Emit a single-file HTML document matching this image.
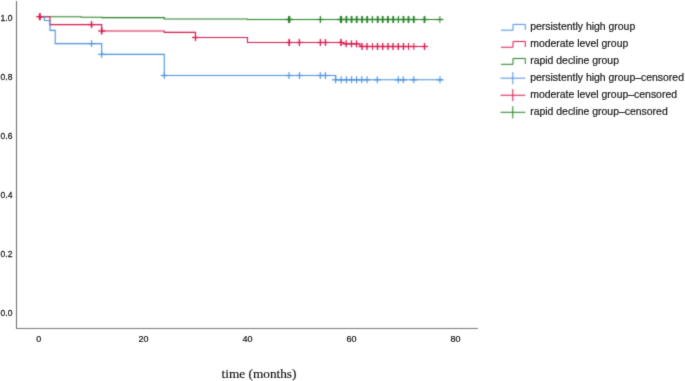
<!DOCTYPE html>
<html><head><meta charset="utf-8">
<style>
html,body{margin:0;padding:0;background:#fff;}
body{width:685px;height:381px;overflow:hidden;}
svg{display:block;}
</style></head>
<body>
<svg width="685" height="381" viewBox="0 0 685 381">
<defs><filter id="bl" x="0" y="0" width="685" height="381" filterUnits="userSpaceOnUse" color-interpolation-filters="sRGB"><feConvolveMatrix order="3" kernelMatrix="0.0256 0.1088 0.0256 0.1088 0.4624 0.1088 0.0256 0.1088 0.0256" edgeMode="duplicate" preserveAlpha="true"/></filter><filter id="bl2" x="0" y="0" width="685" height="381" filterUnits="userSpaceOnUse" color-interpolation-filters="sRGB"><feConvolveMatrix order="3" kernelMatrix="0.0121 0.0858 0.0121 0.0858 0.6084 0.0858 0.0121 0.0858 0.0121" edgeMode="none" preserveAlpha="false"/></filter></defs>
<g filter="url(#bl)">
<rect width="685" height="381" fill="#fff"/>
<path d="M16.5 1 V328.5" stroke="#666" stroke-width="1" fill="none"/>
<path d="M16 328.5 H478" stroke="#777" stroke-width="1" fill="none"/>
<g fill="none" stroke-width="1.1" stroke-opacity="1.0">
<path d="M39.6 16.8 H81.2 V17.2 H101.8 V17.6 H164.2 V19.0 H247.5 V19.5 H443" stroke="#238023"/>
<path d="M39.6 16.8 H50 V24.6 H101.7 V31.0 H164.3 V32.4 H195.5 V37.5 H247.5 V42.5 H343.3 V43.8 H360 V46.5 H427.5" stroke="#d6174a"/>
<path d="M39.6 16.8 H44.4 V20.5 H50 V30.4 H55.2 V43.6 H101.7 V54.4 H164.3 V75.5 H335.7 V79.8 H443" stroke="#4a90e2"/>
</g>
<g fill="none">
<path d="M285.70 19.5 H292.70" stroke="#238023" stroke-width="1.5"/><path d="M289.2 16.0 V23.0" stroke="#238023" stroke-width="2.24"/>
<path d="M316.90 19.5 H323.90" stroke="#238023" stroke-width="1.3"/><path d="M320.4 16.0 V23.0" stroke="#238023" stroke-width="1.2320000000000002"/>
<path d="M337.50 19.5 H344.50" stroke="#238023" stroke-width="1.5"/><path d="M341.0 16.0 V23.0" stroke="#238023" stroke-width="2.24"/>
<path d="M342.90 19.5 H349.90" stroke="#238023" stroke-width="1.3"/><path d="M346.4 16.0 V23.0" stroke="#238023" stroke-width="1.7920000000000003"/>
<path d="M348.10 19.5 H355.10" stroke="#238023" stroke-width="1.3"/><path d="M351.6 16.0 V23.0" stroke="#238023" stroke-width="1.7920000000000003"/>
<path d="M353.20 19.5 H360.20" stroke="#238023" stroke-width="1.3"/><path d="M356.7 16.0 V23.0" stroke="#238023" stroke-width="1.7920000000000003"/>
<path d="M358.60 19.5 H365.60" stroke="#238023" stroke-width="1.3"/><path d="M362.1 16.0 V23.0" stroke="#238023" stroke-width="1.7920000000000003"/>
<path d="M363.70 19.5 H370.70" stroke="#238023" stroke-width="1.3"/><path d="M367.2 16.0 V23.0" stroke="#238023" stroke-width="1.7920000000000003"/>
<path d="M368.90 19.5 H375.90" stroke="#238023" stroke-width="1.3"/><path d="M372.4 16.0 V23.0" stroke="#238023" stroke-width="1.2320000000000002"/>
<path d="M374.20 19.5 H381.20" stroke="#238023" stroke-width="1.3"/><path d="M377.7 16.0 V23.0" stroke="#238023" stroke-width="1.7920000000000003"/>
<path d="M379.20 19.5 H386.20" stroke="#238023" stroke-width="1.3"/><path d="M382.7 16.0 V23.0" stroke="#238023" stroke-width="1.7920000000000003"/>
<path d="M384.40 19.5 H391.40" stroke="#238023" stroke-width="1.3"/><path d="M387.9 16.0 V23.0" stroke="#238023" stroke-width="1.7920000000000003"/>
<path d="M389.70 19.5 H396.70" stroke="#238023" stroke-width="1.3"/><path d="M393.2 16.0 V23.0" stroke="#238023" stroke-width="1.7920000000000003"/>
<path d="M394.90 19.5 H401.90" stroke="#238023" stroke-width="1.3"/><path d="M398.4 16.0 V23.0" stroke="#238023" stroke-width="1.2320000000000002"/>
<path d="M400.00 19.5 H407.00" stroke="#238023" stroke-width="1.3"/><path d="M403.5 16.0 V23.0" stroke="#238023" stroke-width="1.7920000000000003"/>
<path d="M405.00 19.5 H412.00" stroke="#238023" stroke-width="1.3"/><path d="M408.5 16.0 V23.0" stroke="#238023" stroke-width="1.7920000000000003"/>
<path d="M410.30 19.5 H417.30" stroke="#238023" stroke-width="1.3"/><path d="M413.8 16.0 V23.0" stroke="#238023" stroke-width="1.7920000000000003"/>
<path d="M421.00 19.5 H428.00" stroke="#238023" stroke-width="1.3"/><path d="M424.5 16.0 V23.0" stroke="#238023" stroke-width="1.7920000000000003"/>
<path d="M436.40 19.5 H443.40" stroke="#238023" stroke-width="1.3"/><path d="M439.9 16.0 V23.0" stroke="#238023" stroke-width="0.9520000000000001"/>
<path d="M36.35 16.7 H43.35" stroke="#d6174a" stroke-width="1.5"/><path d="M39.85 13.2 V20.2" stroke="#d6174a" stroke-width="2.0240000000000005"/>
<path d="M88.05 24.6 H95.05" stroke="#d6174a" stroke-width="1.3"/><path d="M91.55 21.1 V28.1" stroke="#d6174a" stroke-width="1.4720000000000002"/>
<path d="M98.20 31.0 H105.20" stroke="#d6174a" stroke-width="1.3"/><path d="M101.7 27.5 V34.5" stroke="#d6174a" stroke-width="1.6560000000000001"/>
<path d="M192.00 37.5 H199.00" stroke="#d6174a" stroke-width="1.3"/><path d="M195.5 34.0 V41.0" stroke="#d6174a" stroke-width="1.288"/>
<path d="M285.70 42.5 H292.70" stroke="#d6174a" stroke-width="1.3"/><path d="M289.2 39.0 V46.0" stroke="#d6174a" stroke-width="1.6560000000000001"/>
<path d="M295.90 42.5 H302.90" stroke="#d6174a" stroke-width="1.3"/><path d="M299.4 39.0 V46.0" stroke="#d6174a" stroke-width="1.288"/>
<path d="M316.90 42.5 H323.90" stroke="#d6174a" stroke-width="1.3"/><path d="M320.4 39.0 V46.0" stroke="#d6174a" stroke-width="1.288"/>
<path d="M322.00 42.5 H329.00" stroke="#d6174a" stroke-width="1.3"/><path d="M325.5 39.0 V46.0" stroke="#d6174a" stroke-width="1.288"/>
<path d="M337.50 42.5 H344.50" stroke="#d6174a" stroke-width="1.3"/><path d="M341.0 39.0 V46.0" stroke="#d6174a" stroke-width="1.6560000000000001"/>
<path d="M342.70 43.8 H349.70" stroke="#d6174a" stroke-width="1.3"/><path d="M346.2 40.3 V47.3" stroke="#d6174a" stroke-width="1.288"/>
<path d="M348.00 43.8 H355.00" stroke="#d6174a" stroke-width="1.3"/><path d="M351.5 40.3 V47.3" stroke="#d6174a" stroke-width="1.288"/>
<path d="M353.00 43.8 H360.00" stroke="#d6174a" stroke-width="1.3"/><path d="M356.5 40.3 V47.3" stroke="#d6174a" stroke-width="1.288"/>
<path d="M358.50 46.5 H365.50" stroke="#d6174a" stroke-width="1.3"/><path d="M362 43.0 V50.0" stroke="#d6174a" stroke-width="1.3800000000000001"/>
<path d="M363.50 46.5 H370.50" stroke="#d6174a" stroke-width="1.3"/><path d="M367 43.0 V50.0" stroke="#d6174a" stroke-width="1.3800000000000001"/>
<path d="M369.00 46.5 H376.00" stroke="#d6174a" stroke-width="1.3"/><path d="M372.5 43.0 V50.0" stroke="#d6174a" stroke-width="1.0120000000000002"/>
<path d="M374.00 46.5 H381.00" stroke="#d6174a" stroke-width="1.3"/><path d="M377.5 43.0 V50.0" stroke="#d6174a" stroke-width="1.3800000000000001"/>
<path d="M379.20 46.5 H386.20" stroke="#d6174a" stroke-width="1.3"/><path d="M382.7 43.0 V50.0" stroke="#d6174a" stroke-width="1.3800000000000001"/>
<path d="M384.50 46.5 H391.50" stroke="#d6174a" stroke-width="1.3"/><path d="M388 43.0 V50.0" stroke="#d6174a" stroke-width="1.3800000000000001"/>
<path d="M389.50 46.5 H396.50" stroke="#d6174a" stroke-width="1.3"/><path d="M393 43.0 V50.0" stroke="#d6174a" stroke-width="1.3800000000000001"/>
<path d="M394.80 46.5 H401.80" stroke="#d6174a" stroke-width="1.3"/><path d="M398.3 43.0 V50.0" stroke="#d6174a" stroke-width="1.3800000000000001"/>
<path d="M400.00 46.5 H407.00" stroke="#d6174a" stroke-width="1.3"/><path d="M403.5 43.0 V50.0" stroke="#d6174a" stroke-width="1.3800000000000001"/>
<path d="M405.00 46.5 H412.00" stroke="#d6174a" stroke-width="1.3"/><path d="M408.5 43.0 V50.0" stroke="#d6174a" stroke-width="1.0120000000000002"/>
<path d="M410.30 46.5 H417.30" stroke="#d6174a" stroke-width="1.3"/><path d="M413.8 43.0 V50.0" stroke="#d6174a" stroke-width="1.0120000000000002"/>
<path d="M421.00 46.5 H428.00" stroke="#d6174a" stroke-width="1.3"/><path d="M424.5 43.0 V50.0" stroke="#d6174a" stroke-width="1.3800000000000001"/>
<path d="M88.05 43.6 H95.05" stroke="#4a90e2" stroke-width="1.3"/><path d="M91.55 40.1 V47.1" stroke="#4a90e2" stroke-width="1.014"/>
<path d="M98.20 54.4 H105.20" stroke="#4a90e2" stroke-width="1.3"/><path d="M101.7 50.9 V57.9" stroke="#4a90e2" stroke-width="1.014"/>
<path d="M160.80 75.5 H167.80" stroke="#4a90e2" stroke-width="1.3"/><path d="M164.3 72.0 V79.0" stroke="#4a90e2" stroke-width="1.014"/>
<path d="M285.50 75.5 H292.50" stroke="#4a90e2" stroke-width="1.3"/><path d="M289 72.0 V79.0" stroke="#4a90e2" stroke-width="1.0919999999999999"/>
<path d="M296.00 75.5 H303.00" stroke="#4a90e2" stroke-width="1.3"/><path d="M299.5 72.0 V79.0" stroke="#4a90e2" stroke-width="1.0919999999999999"/>
<path d="M316.80 75.5 H323.80" stroke="#4a90e2" stroke-width="1.3"/><path d="M320.3 72.0 V79.0" stroke="#4a90e2" stroke-width="1.0919999999999999"/>
<path d="M321.90 75.5 H328.90" stroke="#4a90e2" stroke-width="1.3"/><path d="M325.4 72.0 V79.0" stroke="#4a90e2" stroke-width="1.0919999999999999"/>
<path d="M332.10 79.8 H339.10" stroke="#4a90e2" stroke-width="1.3"/><path d="M335.6 76.3 V83.3" stroke="#4a90e2" stroke-width="1.0919999999999999"/>
<path d="M337.60 79.8 H344.60" stroke="#4a90e2" stroke-width="1.3"/><path d="M341.1 76.3 V83.3" stroke="#4a90e2" stroke-width="1.0919999999999999"/>
<path d="M342.90 79.8 H349.90" stroke="#4a90e2" stroke-width="1.3"/><path d="M346.4 76.3 V83.3" stroke="#4a90e2" stroke-width="1.0919999999999999"/>
<path d="M348.10 79.8 H355.10" stroke="#4a90e2" stroke-width="1.3"/><path d="M351.6 76.3 V83.3" stroke="#4a90e2" stroke-width="1.0919999999999999"/>
<path d="M353.10 79.8 H360.10" stroke="#4a90e2" stroke-width="1.3"/><path d="M356.6 76.3 V83.3" stroke="#4a90e2" stroke-width="1.0919999999999999"/>
<path d="M358.30 79.8 H365.30" stroke="#4a90e2" stroke-width="1.3"/><path d="M361.8 76.3 V83.3" stroke="#4a90e2" stroke-width="1.0919999999999999"/>
<path d="M363.60 79.8 H370.60" stroke="#4a90e2" stroke-width="1.3"/><path d="M367.1 76.3 V83.3" stroke="#4a90e2" stroke-width="1.0919999999999999"/>
<path d="M373.80 79.8 H380.80" stroke="#4a90e2" stroke-width="1.3"/><path d="M377.3 76.3 V83.3" stroke="#4a90e2" stroke-width="1.0919999999999999"/>
<path d="M394.80 79.8 H401.80" stroke="#4a90e2" stroke-width="1.3"/><path d="M398.3 76.3 V83.3" stroke="#4a90e2" stroke-width="1.0919999999999999"/>
<path d="M399.80 79.8 H406.80" stroke="#4a90e2" stroke-width="1.3"/><path d="M403.3 76.3 V83.3" stroke="#4a90e2" stroke-width="1.0919999999999999"/>
<path d="M410.30 79.8 H417.30" stroke="#4a90e2" stroke-width="1.3"/><path d="M413.8 76.3 V83.3" stroke="#4a90e2" stroke-width="1.0919999999999999"/>
<path d="M436.50 79.8 H443.50" stroke="#4a90e2" stroke-width="1.3"/><path d="M440 76.3 V83.3" stroke="#4a90e2" stroke-width="1.0919999999999999"/>
</g>
<path d="M501 30.20 H513 V24.40 H525.3 V29.90" stroke="#4a90e2" stroke-width="1.0" fill="none"/>
<path d="M501 47.26 H513 V41.46 H525.3 V46.96" stroke="#d6174a" stroke-width="1.0" fill="none"/>
<path d="M501 64.32 H513 V58.52 H525.3 V64.02" stroke="#238023" stroke-width="1.0" fill="none"/>
<path d="M500.5 78.18 H525.3 M512.8 72.08 V84.28" stroke="#4a90e2" stroke-width="1.0"/>
<path d="M500.5 95.24 H525.3 M512.8 89.14 V101.34" stroke="#d6174a" stroke-width="1.0"/>
<path d="M500.5 112.30 H525.3 M512.8 106.20 V118.40" stroke="#238023" stroke-width="1.0"/>
</g>
<g filter="url(#bl2)">
<g font-family="Liberation Sans, sans-serif" font-size="9.3" fill="#1a1a1a" stroke="#1a1a1a" stroke-width="0.25">
<text transform="translate(12.45 21.40) scale(0.92 1)" text-anchor="end">1.0</text>
<text transform="translate(12.45 80.38) scale(0.92 1)" text-anchor="end">0.8</text>
<text transform="translate(12.45 139.36) scale(0.92 1)" text-anchor="end">0.6</text>
<text transform="translate(12.45 198.34) scale(0.92 1)" text-anchor="end">0.4</text>
<text transform="translate(12.45 257.32) scale(0.92 1)" text-anchor="end">0.2</text>
<text transform="translate(12.45 316.30) scale(0.92 1)" text-anchor="end">0.0</text>
<text transform="translate(38.8 341.8) scale(0.97 1)" text-anchor="middle">0</text>
<text transform="translate(143.6 341.8) scale(0.97 1)" text-anchor="middle">20</text>
<text transform="translate(247.6 341.8) scale(0.97 1)" text-anchor="middle">40</text>
<text transform="translate(351.5 341.8) scale(0.97 1)" text-anchor="middle">60</text>
<text transform="translate(455.4 341.8) scale(0.97 1)" text-anchor="middle">80</text>
</g>
<g font-family="Liberation Sans, sans-serif" font-size="10.45" fill="#1a1a1a" stroke="#1a1a1a" stroke-width="0.2">
<text x="530.2" y="29.90">persistently high group</text>
<text x="530.2" y="46.96">moderate level group</text>
<text x="530.2" y="64.02">rapid decline group</text>
<text x="530.2" y="81.08">persistently high group–censored</text>
<text x="530.2" y="98.14">moderate level group–censored</text>
<text x="530.2" y="115.20">rapid decline group–censored</text>
</g>
<text x="259" y="377.9" text-anchor="middle" font-family="Liberation Serif, serif" font-size="13.3" fill="#111" stroke="#111" stroke-width="0.15">time (months)</text>
</g>
</svg>
</body></html>
